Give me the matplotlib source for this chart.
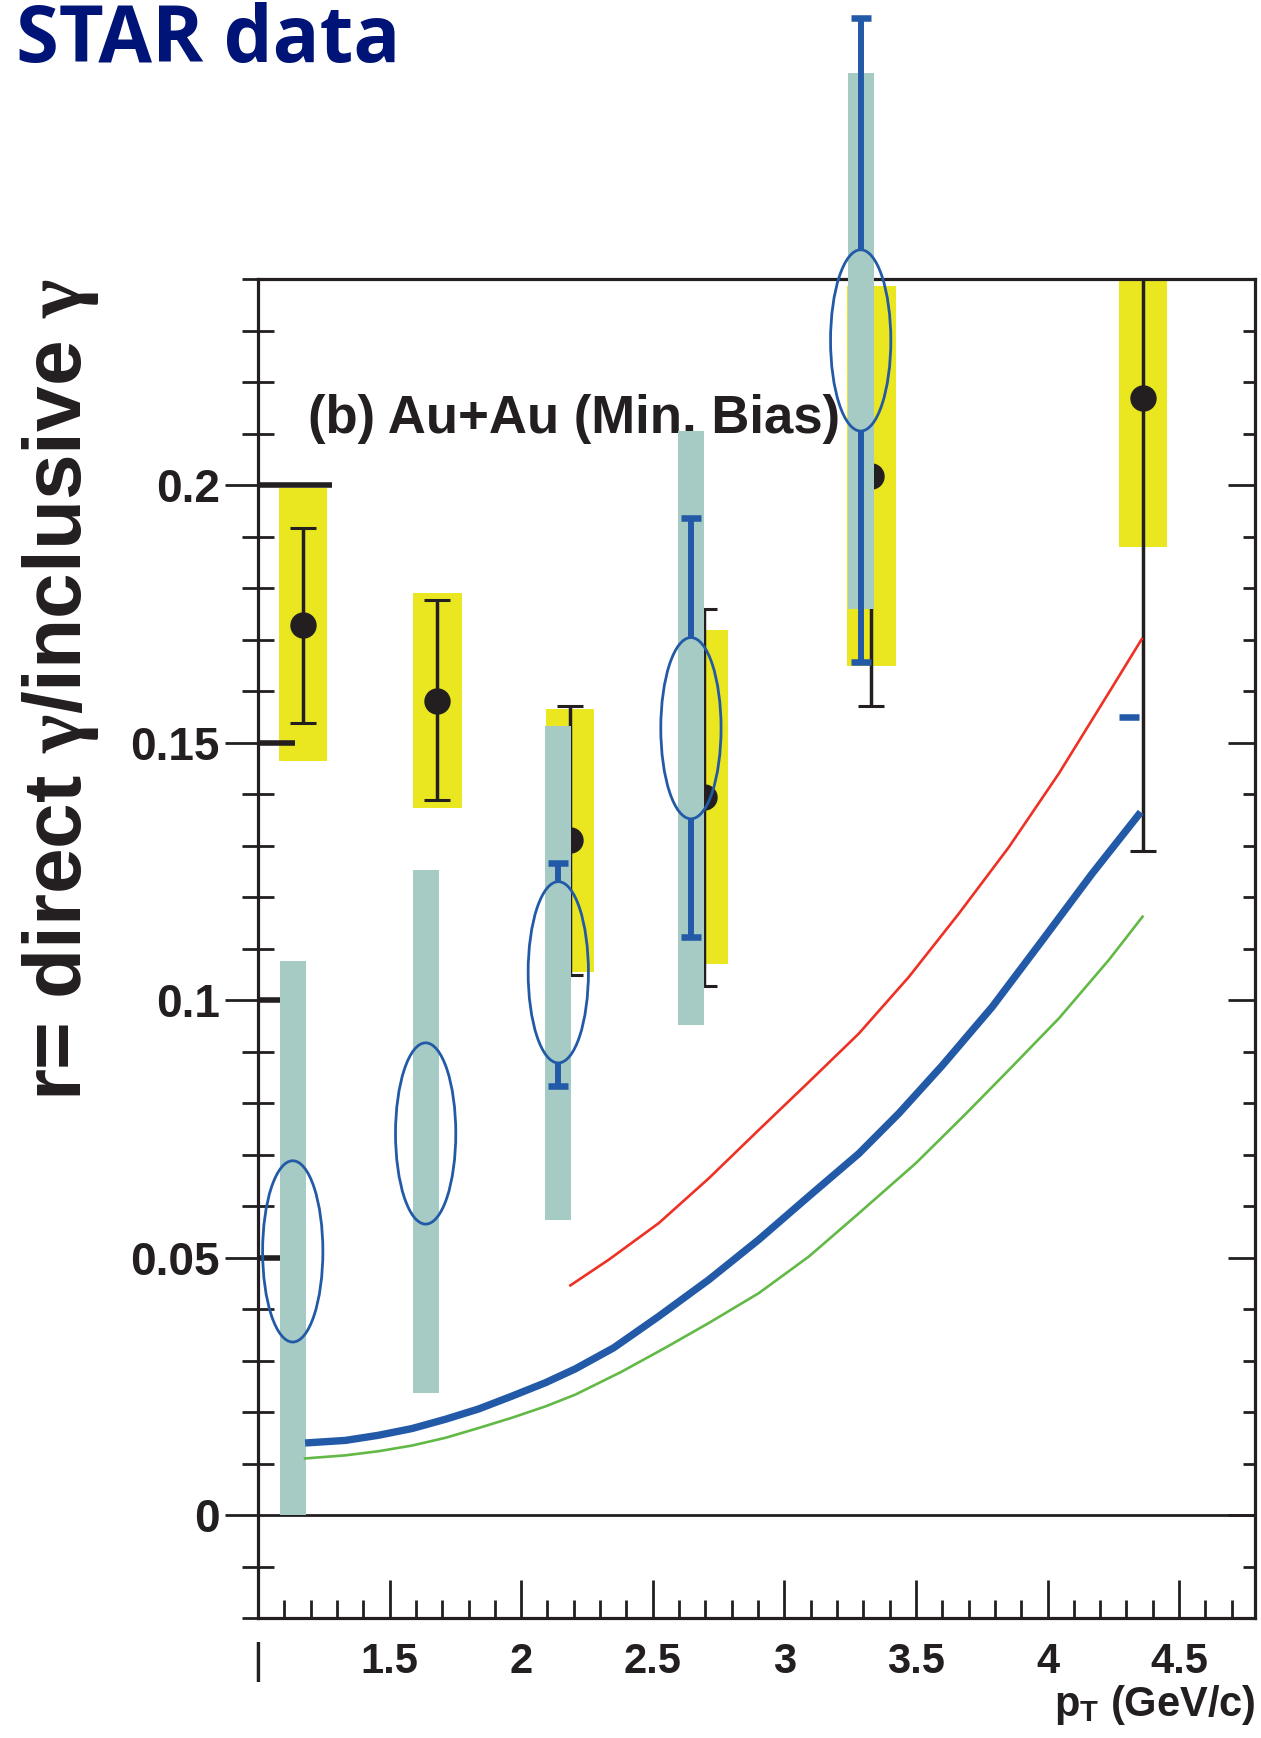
import matplotlib
matplotlib.use('Agg')
import matplotlib.pyplot as plt
from matplotlib.patches import Ellipse
from matplotlib.ticker import MultipleLocator
import numpy as np

plt.rcParams['font.family'] = 'Liberation Sans'
plt.rcParams['font.weight'] = 'bold'
plt.rcParams['mathtext.fontset'] = 'custom'
plt.rcParams['mathtext.rm'] = 'Liberation Sans:bold'
plt.rcParams['mathtext.it'] = 'Liberation Serif'

# STAR Au+Au min. bias points: value, stat. error range, syst. box range
star_pt = [1.170, 1.682, 2.184, 2.694, 3.331, 4.362]
star_r = [0.1729, 0.1581, 0.1311, 0.1394, 0.2017, 0.2169]
star_stat_lo = [0.1539, 0.1388, 0.1049, 0.1028, 0.1571, 0.1289]
star_stat_hi = [0.1917, 0.1777, 0.1572, 0.1760, 0.2463, 0.3049]
star_sys_lo = [0.1465, 0.1373, 0.1054, 0.1070, 0.1648, 0.1880]
star_sys_hi = [0.1994, 0.1791, 0.1566, 0.1719, 0.2386, 0.2458]

# comparison points drawn as ellipses on grey-green bands
cmp_pt = [1.132, 1.637, 2.141, 2.645, 3.290]
cmp_r = [0.0512, 0.0741, 0.1054, 0.1528, 0.2281]
cmp_band_lo = [0.0, 0.0237, 0.0573, 0.0952, 0.1760]
cmp_band_hi = [0.1075, 0.1252, 0.1533, 0.2105, 0.2800]
cmp_err_lo = [np.nan, np.nan, 0.0833, 0.1122, 0.1656]
cmp_err_hi = [np.nan, np.nan, 0.1267, 0.1937, 0.2907]
cmp_cap_pt = [4.309]
cmp_cap_r = [0.1549]

# model curves
blue_pt = [1.179, 1.332, 1.458, 1.585, 1.712, 1.838, 1.965, 2.092, 2.206,
           2.352, 2.523, 2.713, 2.903, 3.093, 3.283, 3.435, 3.600, 3.790,
           3.980, 4.170, 4.354]
blue_r = [0.0140, 0.0145, 0.0155, 0.0168, 0.0186, 0.0206, 0.0231, 0.0257,
          0.0284, 0.0325, 0.0386, 0.0457, 0.0535, 0.0619, 0.0702, 0.0780,
          0.0873, 0.0987, 0.1116, 0.1246, 0.1365]
green_pt = [1.179, 1.332, 1.458, 1.585, 1.712, 1.838, 1.965, 2.092, 2.206,
            2.380, 2.548, 2.713, 2.903, 3.093, 3.283, 3.499, 3.689, 3.860,
            4.044, 4.233, 4.361]
green_r = [0.0110, 0.0116, 0.0124, 0.0135, 0.0150, 0.0169, 0.0189, 0.0211,
           0.0234, 0.0278, 0.0325, 0.0373, 0.0431, 0.0502, 0.0586, 0.0683,
           0.0779, 0.0868, 0.0965, 0.1078, 0.1162]
red_pt = [2.187, 2.333, 2.523, 2.713, 2.903, 3.093, 3.283, 3.473, 3.663,
          3.853, 4.043, 4.233, 4.358]
red_r = [0.0446, 0.0496, 0.0567, 0.0654, 0.0748, 0.0841, 0.0935, 0.1045,
         0.1168, 0.1297, 0.1440, 0.1597, 0.1701]

x_ticks = [1.0, 1.5, 2.0, 2.5, 3.0, 3.5, 4.0, 4.5]
x_labels = ['|', '1.5', '2', '2.5', '3', '3.5', '4', '4.5']
y_ticks = [0.0, 0.05, 0.1, 0.15, 0.2]
y_labels = ['0', '0.05', '0.1', '0.15', '0.2']

BLACK = '#231F20'
YELLOW = '#EAE720'
TEAL = '#A5CBC4'
BLUE = '#235AA8'
RED = '#EE3124'
GREEN = '#62B946'
NAVY = '#001478'

ELL_W, ELL_H = 0.229, 0.0352

fig = plt.figure(figsize=(12.61, 17.38), dpi=100)
ax = fig.add_axes([0.2046, 0.0690, 0.7910, 0.7704])
ax.set_xlim(1.0, 4.79)
ax.set_ylim(-0.02, 0.24)

ax.axhline(0, color=BLACK, lw=2.0, zorder=1.5)

# STAR: yellow syst. boxes, black points with stat. errors
r = np.array(star_r)
sys_lo, sys_hi = np.array(star_sys_lo), np.array(star_sys_hi)
ax.bar(star_pt, sys_hi - sys_lo, bottom=sys_lo, width=0.183, color=YELLOW,
       linewidth=0, zorder=2)
ax.errorbar(star_pt, r, yerr=[r - np.array(star_stat_lo), np.array(star_stat_hi) - r],
            fmt='o', color=BLACK, ms=18, elinewidth=2.5, capsize=9.6,
            capthick=2.2, zorder=3)

ax.text(1.19, 0.2102, '(b) Au+Au (Min. Bias)', fontsize=38, color=BLACK,
        ha='left', va='baseline', zorder=3)

# comparison bands, ellipses and error bars (allowed to run above the frame)
c_lo, c_hi = np.array(cmp_band_lo), np.array(cmp_band_hi)
ax.bar(cmp_pt, c_hi - c_lo, bottom=c_lo, width=0.098, color=TEAL,
       linewidth=0, zorder=4, clip_on=False)
for x, y, lo, hi in zip(cmp_pt, cmp_r, cmp_err_lo, cmp_err_hi):
    ax.add_patch(Ellipse((x, y), ELL_W, ELL_H, fill=False, ec=BLUE, lw=2.0,
                         zorder=5, clip_on=False))
    if np.isnan(lo):
        continue
    ax.vlines([x, x], [lo, y + ELL_H / 2], [y - ELL_H / 2, hi], colors=BLUE,
              lw=4.3, zorder=5, clip_on=False)
    ax.plot([x, x], [lo, hi], ls='none', marker='_', ms=15, mew=4.7,
            color=BLUE, zorder=5, clip_on=False)
ax.plot(cmp_cap_pt, cmp_cap_r, ls='none', marker='_', ms=15, mew=4.7,
        color=BLUE, zorder=5)

# curves
ax.plot(red_pt, red_r, color=RED, lw=1.9, zorder=6)
ax.plot(green_pt, green_r, color=GREEN, lw=1.9, zorder=6)
ax.plot(blue_pt, blue_r, color=BLUE, lw=5.3, zorder=6, solid_capstyle='butt',
        solid_joinstyle='round')

# axes frame and ticks
for sp in ax.spines.values():
    sp.set_linewidth(2.3)
    sp.set_color(BLACK)

ax.set_xticks(x_ticks)
xl = ax.set_xticklabels(x_labels)
xl[0].set_fontsize(23)
xl[0].set_fontweight('normal')
ax.xaxis.set_minor_locator(MultipleLocator(0.1))
ax.tick_params(axis='x', which='major', direction='in', length=27.4, width=2,
               top=False, pad=17, labelsize=30, colors=BLACK)
ax.tick_params(axis='x', which='minor', direction='in', length=13, width=2,
               top=False, colors=BLACK)

ax.set_yticks(y_ticks)
ax.set_yticklabels(y_labels)
ax.yaxis.set_minor_locator(MultipleLocator(0.01))
ax.tick_params(axis='y', which='major', direction='out', length=23.8, width=2,
               right=False, pad=3.6, labelsize=33, colors=BLACK)
ax.tick_params(axis='y', which='minor', direction='inout', length=23, width=2,
               right=False, colors=BLACK)

# thick inner part of the left major ticks
ax.hlines(y_ticks[1:], 0, [0.024, 0.024, 0.037, 0.074], color=BLACK, lw=4,
          transform=ax.get_yaxis_transform(), zorder=3.5)

# right-hand ticks pointing inward
ax2 = ax.twinx()
ax2.set_ylim(ax.get_ylim())
ax2.set_yticks(y_ticks)
ax2.yaxis.set_minor_locator(MultipleLocator(0.01))
ax2.tick_params(axis='y', which='major', direction='in', length=19.8, width=2,
                labelright=False, colors=BLACK)
ax2.tick_params(axis='y', which='minor', direction='in', length=9, width=2,
                colors=BLACK)
for sp in ax2.spines.values():
    sp.set_visible(False)

fig.text(0.0476, 0.6030, r'r= direct $\gamma$/inclusive $\gamma$', rotation=90,
         fontsize=59, color=BLACK, ha='center', va='center')
fig.text(0.9956, 0.0125, r'p$_\mathrm{T}$ (GeV/c)', fontsize=30, color=BLACK,
         ha='right', va='baseline')
fig.text(0.0125, 1 - 62 / 1738, 'STAR data', fontsize=56, color=NAVY,
         family='Open Sans', weight='bold', ha='left', va='baseline')

fig.savefig('out.png', dpi=100)
